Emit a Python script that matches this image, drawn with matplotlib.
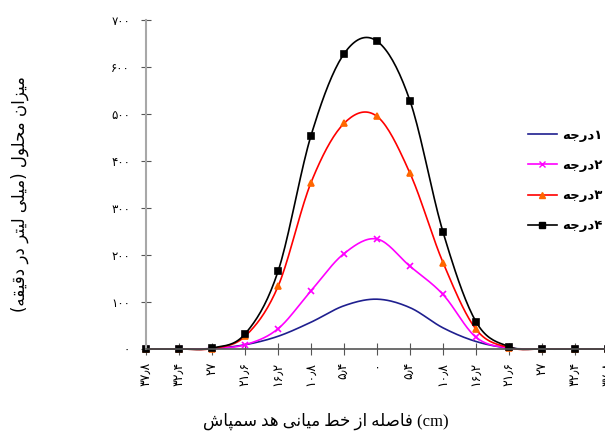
import numpy as np
import matplotlib
matplotlib.use("Agg")
import matplotlib.pyplot as plt


# data
x_labels = ["37.8", "32.4", "27", "21.6", "16.2", "10.8", "5.4", "0",
            "5.4", "10.8", "16.2", "21.6", "27", "32.4", "37.8"]
deg1 = [0, 0, 1, 9, 27, 57, 92, 106, 88, 45, 16, 2, 0, 0, 0]
deg2 = [0, 0, 1, 9, 43, 124, 203, 234, 176, 116, 25, 2, 0, 0, 0]
deg3 = [0, 0, 1, 27, 133, 354, 480, 495, 374, 184, 42, 3, 0, 0, 0]
deg4 = [0, 0, 2, 32, 165, 454, 628, 655, 528, 249, 58, 5, 0, 0, 0]
y_ticks = [0, 100, 200, 300, 400, 500, 600, 700]


# small persian shaper (matplotlib has no bidi / arabic shaping)
FORMS = {
    'ا': (0xFE8D, 0xFE8E), 'د': (0xFEA9, 0xFEAA), 'ر': (0xFEAD, 0xFEAE),
    'ز': (0xFEAF, 0xFEB0), 'و': (0xFEED, 0xFEEE),
    'پ': (0xFB56, 0xFB57, 0xFB58, 0xFB59), 'ت': (0xFE95, 0xFE96, 0xFE97, 0xFE98),
    'ج': (0xFE9D, 0xFE9E, 0xFE9F, 0xFEA0), 'ح': (0xFEA1, 0xFEA2, 0xFEA3, 0xFEA4),
    'خ': (0xFEA5, 0xFEA6, 0xFEA7, 0xFEA8), 'س': (0xFEB1, 0xFEB2, 0xFEB3, 0xFEB4),
    'ش': (0xFEB5, 0xFEB6, 0xFEB7, 0xFEB8), 'ص': (0xFEB9, 0xFEBA, 0xFEBB, 0xFEBC),
    'ط': (0xFEC1, 0xFEC2, 0xFEC3, 0xFEC4), 'ف': (0xFED1, 0xFED2, 0xFED3, 0xFED4),
    'ق': (0xFED5, 0xFED6, 0xFED7, 0xFED8), 'ل': (0xFEDD, 0xFEDE, 0xFEDF, 0xFEE0),
    'م': (0xFEE1, 0xFEE2, 0xFEE3, 0xFEE4), 'ن': (0xFEE5, 0xFEE6, 0xFEE7, 0xFEE8),
    'ه': (0xFEE9, 0xFEEA, 0xFEEB, 0xFEEC), 'ی': (0xFEEF, 0xFEF0, 0xFEF3, 0xFEF4),
}
MIRROR = {'(': ')', ')': '('}


def rtl(text):
    out = []
    for i, ch in enumerate(text):
        if ch not in FORMS:
            out.append(MIRROR.get(ch, ch))
            continue
        prev = i > 0 and text[i - 1] in FORMS and len(FORMS[text[i - 1]]) == 4
        nxt = i + 1 < len(text) and text[i + 1] in FORMS and len(FORMS[ch]) == 4
        f = FORMS[ch]
        if prev and nxt:
            code = f[3]
        elif prev:
            code = f[1]
        elif nxt:
            code = f[2]
        else:
            code = f[0]
        out.append(chr(code))
    return "".join(out[::-1])


def fa(s):
    return s.translate(str.maketrans("0123456789.", "۰۱۲۳۴۵۶۷۸۹٫"))


fa_font = ['DejaVu Sans']
x = np.arange(len(x_labels))


def smooth(xs, ys, n=20):
    # excel-style smoothed line (bezier through the points)
    xs = np.asarray(xs, float)
    ys = np.asarray(ys, float)
    px, py = [], []
    t = np.linspace(0, 1, n)
    for i in range(len(xs) - 1):
        i0, i3 = max(i - 1, 0), min(i + 2, len(xs) - 1)
        c1 = (xs[i] + (xs[i + 1] - xs[i0]) / 6, ys[i] + (ys[i + 1] - ys[i0]) / 6)
        c2 = (xs[i + 1] - (xs[i3] - xs[i]) / 6, ys[i + 1] - (ys[i3] - ys[i]) / 6)
        bx = (1 - t) ** 3 * xs[i] + 3 * (1 - t) ** 2 * t * c1[0] + 3 * (1 - t) * t ** 2 * c2[0] + t ** 3 * xs[i + 1]
        by = (1 - t) ** 3 * ys[i] + 3 * (1 - t) ** 2 * t * c1[1] + 3 * (1 - t) * t ** 2 * c2[1] + t ** 3 * ys[i + 1]
        px.extend(bx)
        py.extend(by)
    return px, py


fig = plt.figure(figsize=(6.05, 4.33), dpi=100)
ax = fig.add_axes([146 / 605, 84 / 433, 462 / 605, 329 / 433])

series = [
    (deg1, '#1F1F8F', None, None, '1'),
    (deg2, '#FF00FF', 'x', '#FF00FF', '2'),
    (deg3, '#FF0000', '^', '#FF6600', '3'),
    (deg4, '#000000', 's', '#000000', '4'),
]
for vals, col, mk, mcol, num in series:
    sx, sy = smooth(x, vals)
    ax.plot(sx, sy, color=col, lw=1.2, clip_on=False)
    if mk:
        ax.plot(x, vals, ls='none', marker=mk, color=mcol, ms=5, mew=1.2, clip_on=False)
    ax.plot([], [], color=col, lw=1.2, marker=mk, mfc=mcol, mec=mcol, ms=5,
            label=rtl('درجه') + fa(num))

ax.set_xlim(0, 14)
ax.set_ylim(0, 700)
ax.set_yticks(y_ticks)
ax.set_yticklabels([fa(str(v)) for v in y_ticks], family=fa_font, fontsize=8.5)
ax.set_xticks(x)
ax.set_xticklabels([fa(s) for s in x_labels], rotation=90, family=fa_font, fontsize=9)

for s in ['top', 'right']:
    ax.spines[s].set_visible(False)
ax.spines['left'].set_color('#A8A8A8')
ax.spines['left'].set_linewidth(1.5)
ax.spines['bottom'].set_color('#555555')
ax.spines['bottom'].set_linewidth(1.2)
ax.tick_params(axis='y', direction='inout', length=7, color='#555555', pad=8)
ax.tick_params(axis='x', direction='inout', length=8, color='#555555', pad=5)

ylab = rtl("میزان محلول (میلی لیتر در دقیقه)")
fig.text(20 / 605, 1 - 194 / 433, ylab, rotation=90, ha='center', va='center',
         family=fa_font, fontsize=12)
xlab = rtl("فاصله از خط میانی هد سمپاش") + " (cm)"
fig.text(326 / 605, 1 - 421 / 433, xlab, ha='center', va='center',
         family=['Liberation Serif', 'DejaVu Sans'], fontsize=12)

leg = fig.legend(loc='upper left', bbox_to_anchor=(516 / 605, 1 - 117 / 433),
                 frameon=False, prop={'family': fa_font, 'size': 9.5, 'weight': 'bold'},
                 handlelength=2.2, labelspacing=1.3, handletextpad=0.4)

plt.savefig("out.png", dpi=100)
